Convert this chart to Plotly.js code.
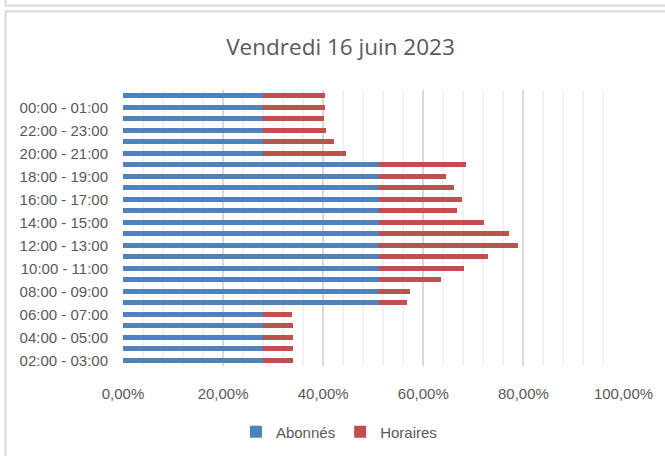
<!DOCTYPE html>
<html>
<head>
<meta charset="utf-8">
<script src="https://cdn.plot.ly/plotly-3.0.1.min.js"></script>
<style>
html,body{margin:0;padding:0;background:#fff;}
#chart{width:665px;height:456px;}
</style>
</head>
<body>
<div id="chart"></div>
<script>
// Categories from bottom to top
const categories = [
  "02:00 - 03:00","03:00 - 04:00","04:00 - 05:00","05:00 - 06:00","06:00 - 07:00",
  "07:00 - 08:00","08:00 - 09:00","09:00 - 10:00","10:00 - 11:00","11:00 - 12:00",
  "12:00 - 13:00","13:00 - 14:00","14:00 - 15:00","15:00 - 16:00","16:00 - 17:00",
  "17:00 - 18:00","18:00 - 19:00","19:00 - 20:00","20:00 - 21:00","21:00 - 22:00",
  "22:00 - 23:00","23:00 - 00:00","00:00 - 01:00","01:00 - 02:00"
];
const abonnes = [
  0.280,0.280,0.280,0.280,0.280,
  0.511,0.511,0.511,0.511,0.511,
  0.511,0.511,0.511,0.511,0.511,
  0.511,0.511,0.511,0.280,0.280,
  0.280,0.280,0.280,0.280
];
const horaires = [
  0.060,0.060,0.060,0.060,0.058,
  0.057,0.062,0.125,0.170,0.219,
  0.279,0.261,0.210,0.156,0.167,
  0.150,0.135,0.174,0.166,0.141,
  0.125,0.121,0.123,0.123
];
const tickLabels = categories.filter((c, i) => i % 2 === 0);

const px2x = p => (p - 123) / 501;
const px2y = p => (366 - p) / 276;
const border = '#d9d9d9';

const traces = [
  {type:'bar', orientation:'h', name:'Abonnés', y:categories, x:abonnes,
   marker:{color:'#4f81bd'}, hoverinfo:'x+y'},
  {type:'bar', orientation:'h', name:'Horaires', y:categories, x:horaires,
   marker:{color:'#c0504d'}, hoverinfo:'x+y'}
];

const layout = {
  width:665, height:456,
  margin:{l:123, r:41, t:90, b:90, pad:0, autoexpand:false},
  paper_bgcolor:'rgba(0,0,0,0)', plot_bgcolor:'rgba(0,0,0,0)',
  separators:', ',
  barmode:'stack', bargap:0.56,
  font:{family:'Liberation Sans, Arial, sans-serif', color:'#595959', size:15},
  title:{text:'Vendredi 16 juin 2023', x:0.512, xanchor:'center', y:0.897, yanchor:'middle',
         font:{family:'Open Sans, sans-serif', size:22.5, color:'#595959'}},
  xaxis:{range:[0,1.001], dtick:0.2, tick0:0, tickformat:'.2%', showgrid:true, automargin:false,
         gridcolor:'#d9d9d9', gridwidth:2, zeroline:false, showline:false,
         ticks:'', ticklabelstandoff:17, fixedrange:true,
         minor:{dtick:0.04, tick0:0, showgrid:true, gridcolor:'#f2f2f2', gridwidth:2, ticks:''}},
  yaxis:{type:'category', categoryorder:'array', categoryarray:categories, automargin:false,
         tickmode:'array', tickvals:tickLabels, ticktext:tickLabels,
         showgrid:false, zeroline:false, showline:false, ticks:'',
         ticklabelstandoff:14, range:[-0.5, categories.length-0.5], fixedrange:true},
  legend:{orientation:'h', x:0.431, xanchor:'center', y:px2y(432), yanchor:'middle',
          font:{size:15, color:'#595959'}, traceorder:'normal', itemwidth:30},
  showlegend:true,
  shapes:[
    {type:'line', xref:'paper', yref:'paper', x0:px2x(5.5), x1:px2x(5.5), y0:px2y(0), y1:px2y(6), line:{color:border, width:2}},
    {type:'line', xref:'paper', yref:'paper', x0:px2x(5), x1:px2x(670), y0:px2y(5.5), y1:px2y(5.5), line:{color:border, width:2}},
    {type:'line', xref:'paper', yref:'paper', x0:px2x(5.5), x1:px2x(5.5), y0:px2y(11), y1:px2y(460), line:{color:border, width:2}},
    {type:'line', xref:'paper', yref:'paper', x0:px2x(5), x1:px2x(670), y0:px2y(11.5), y1:px2y(11.5), line:{color:border, width:2}}
  ]
};

Plotly.newPlot('chart', traces, layout, {displayModeBar:false, staticPlot:true});
</script>
</body>
</html>
